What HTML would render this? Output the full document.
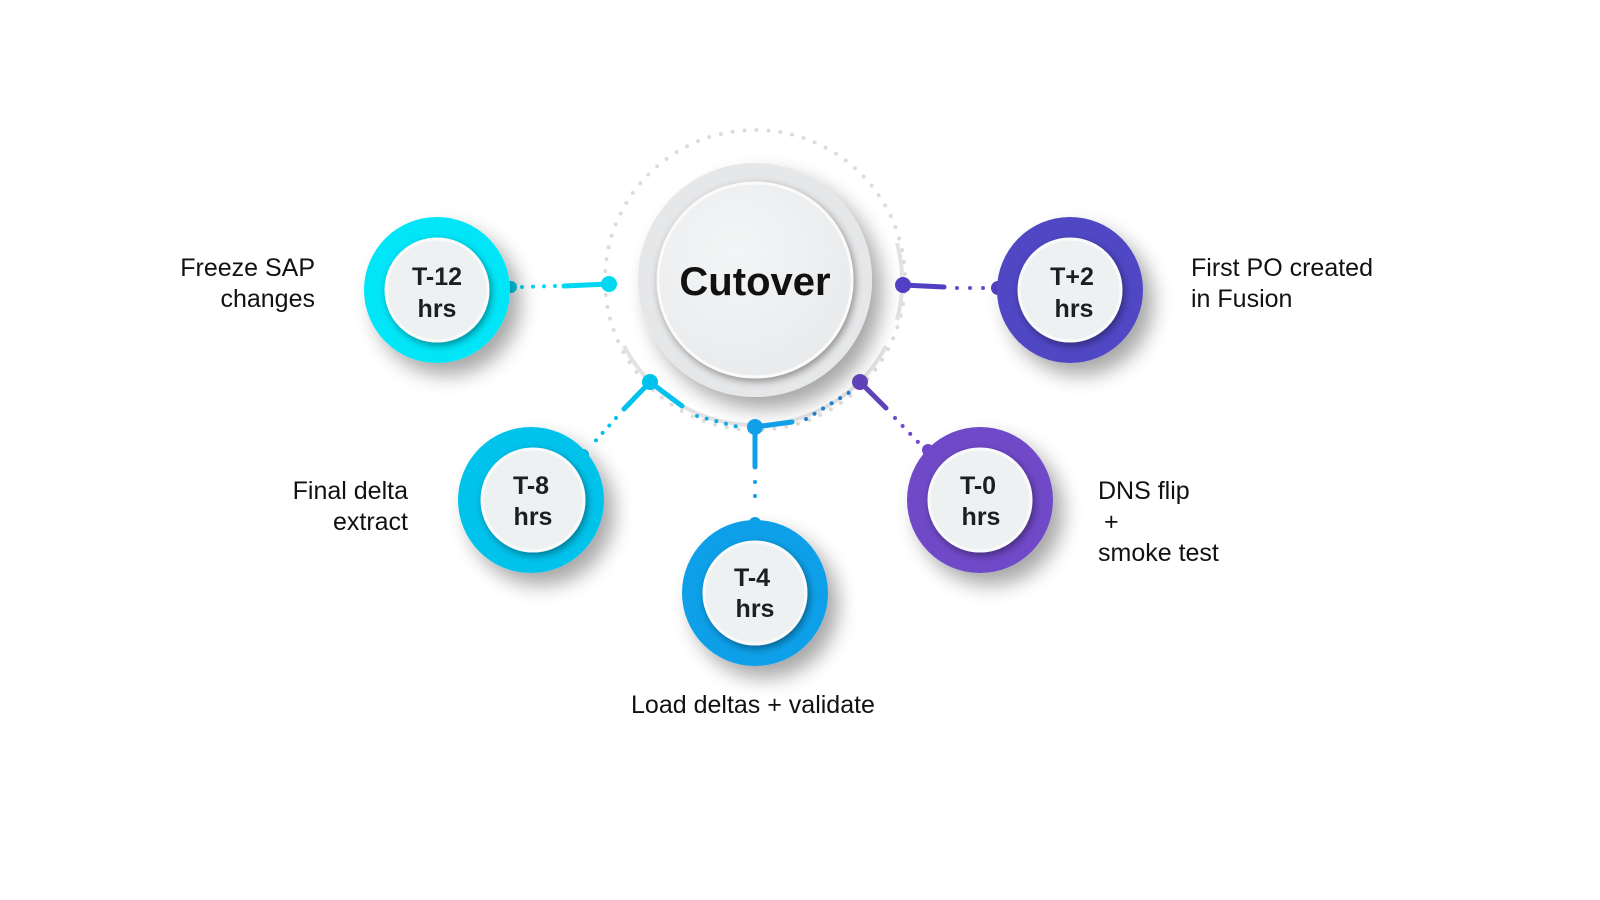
<!DOCTYPE html>
<html><head><meta charset="utf-8"><style>
html,body{margin:0;padding:0;background:#fff;width:1600px;height:900px;overflow:hidden}
svg{display:block}
text{font-family:"Liberation Sans",sans-serif}
</style></head><body>
<svg width="1600" height="900" viewBox="0 0 1600 900" xmlns="http://www.w3.org/2000/svg">
<defs>
<filter id="sh" x="-50%" y="-50%" width="200%" height="200%"><feGaussianBlur in="SourceAlpha" stdDeviation="10"/><feOffset dx="10" dy="12"/><feComponentTransfer><feFuncA type="linear" slope="0.35"/></feComponentTransfer><feMerge><feMergeNode/><feMergeNode in="SourceGraphic"/></feMerge></filter>
<filter id="sh2" x="-50%" y="-50%" width="200%" height="200%"><feGaussianBlur in="SourceAlpha" stdDeviation="4"/><feOffset dx="2" dy="3"/><feComponentTransfer><feFuncA type="linear" slope="0.4"/></feComponentTransfer><feMerge><feMergeNode/><feMergeNode in="SourceGraphic"/></feMerge></filter>
<radialGradient id="cg" cx="40%" cy="35%" r="70%"><stop offset="0" stop-color="#f3f5f6"/><stop offset="1" stop-color="#e8eaec"/></radialGradient>
</defs>
<!-- dotted ring -->
<circle cx="755" cy="280" r="150" fill="none" stroke="#dcdcdc" stroke-width="4" stroke-linecap="round" stroke-dasharray="0 12"/>
<!-- solid gray arc lower part -->
<path d="M624,346 A148,148 0 0 0 886,346" fill="none" stroke="#e2e2e2" stroke-width="4"/>
<path d="M897,243 A148,148 0 0 1 897,320" fill="none" stroke="#e2e2e2" stroke-width="4"/>
<!-- center -->
<circle cx="755" cy="280" r="117" fill="#e6e7e8" filter="url(#sh)"/>
<circle cx="755" cy="280" r="97" fill="url(#cg)" stroke="#fafafa" stroke-width="3" filter="url(#sh2)"/>
<text x="755" y="295" text-anchor="middle" font-size="40" font-weight="bold" fill="#111">Cutover</text>
<!-- connectors -->
<g stroke-linecap="round">
<line x1="564" y1="286" x2="609" y2="284" stroke="#00d8f2" stroke-width="5"/>
<line x1="522" y1="287" x2="555" y2="286" stroke="#00d8f2" stroke-width="4" stroke-dasharray="0 11"/>
<circle cx="609" cy="284" r="8" fill="#00d8f2"/><circle cx="511" cy="287" r="6" fill="#00d8f2"/>
<line x1="903" y1="285" x2="944" y2="287" stroke="#5240c4" stroke-width="5"/>
<line x1="957" y1="288" x2="985" y2="288" stroke="#7048c8" stroke-width="4" stroke-dasharray="0 13"/>
<circle cx="903" cy="285" r="8" fill="#5240c4"/><circle cx="998" cy="288" r="7" fill="#5240c4"/>
<line x1="650" y1="382" x2="624" y2="409" stroke="#00c2ec" stroke-width="5"/>
<line x1="650" y1="382" x2="682" y2="406" stroke="#00c2ec" stroke-width="5"/>
<line x1="616" y1="418" x2="590" y2="447" stroke="#00c2ec" stroke-width="4" stroke-dasharray="0 10"/>
<line x1="697" y1="416" x2="742" y2="428" stroke="#0eaaea" stroke-width="4" stroke-dasharray="0 10"/>
<circle cx="650" cy="382" r="8" fill="#00c2ec"/><circle cx="583" cy="455" r="6" fill="#00c2ec"/>
<line x1="755" y1="427" x2="755" y2="467" stroke="#11a0e8" stroke-width="5"/>
<line x1="755" y1="427" x2="792" y2="422" stroke="#11a0e8" stroke-width="5"/>
<line x1="755" y1="482" x2="755" y2="510" stroke="#11a0e8" stroke-width="4" stroke-dasharray="0 14"/>
<circle cx="755" cy="427" r="8" fill="#11a0e8"/><circle cx="755" cy="523" r="6" fill="#11a0e8"/>
<line x1="806" y1="419" x2="850" y2="392" stroke="#1f7fd0" stroke-width="4" stroke-dasharray="0 10"/>
<line x1="860" y1="382" x2="886" y2="408" stroke="#6042b8" stroke-width="5"/>
<line x1="895" y1="418" x2="918" y2="442" stroke="#7048c8" stroke-width="4" stroke-dasharray="0 11"/>
<circle cx="860" cy="382" r="8" fill="#6042b8"/><circle cx="928" cy="450" r="6" fill="#7048c8"/>
</g>
<!-- nodes -->
<g font-weight="bold" font-size="25" fill="#1a1f1f" text-anchor="middle">
<g><circle cx="437" cy="290" r="73" fill="#02e6f8" filter="url(#sh)"/><circle cx="437" cy="290" r="51" fill="#eef1f2" stroke="#fafafa" stroke-width="3" filter="url(#sh2)"/><text x="437" y="285">T-12</text><text x="437" y="317">hrs</text></g>
<g><circle cx="1070" cy="290" r="73" fill="#4f46c4" filter="url(#sh)"/><circle cx="1070" cy="290" r="51" fill="#eef1f2" stroke="#fafafa" stroke-width="3" filter="url(#sh2)"/><text x="1072" y="285">T+2</text><text x="1074" y="317">hrs</text></g>
<g><circle cx="531" cy="500" r="73" fill="#00c3ec" filter="url(#sh)"/><circle cx="533" cy="500" r="51" fill="#eef1f2" stroke="#fafafa" stroke-width="3" filter="url(#sh2)"/><text x="531" y="494">T-8</text><text x="533" y="525">hrs</text></g>
<g><circle cx="755" cy="593" r="73" fill="#10a0e9" filter="url(#sh)"/><circle cx="755" cy="593" r="51" fill="#eef1f2" stroke="#fafafa" stroke-width="3" filter="url(#sh2)"/><text x="752" y="586">T-4</text><text x="755" y="617">hrs</text></g>
<g><circle cx="980" cy="500" r="73" fill="#7049c8" filter="url(#sh)"/><circle cx="980" cy="500" r="51" fill="#eef1f2" stroke="#fafafa" stroke-width="3" filter="url(#sh2)"/><text x="978" y="494">T-0</text><text x="981" y="525">hrs</text></g>
</g>
<!-- labels -->
<g font-size="25" fill="#111">
<text x="315" y="276" text-anchor="end">Freeze SAP</text>
<text x="315" y="307" text-anchor="end">changes</text>
<text x="1191" y="276">First PO created</text>
<text x="1191" y="307">in Fusion</text>
<text x="408" y="499" text-anchor="end">Final delta</text>
<text x="408" y="530" text-anchor="end">extract</text>
<text x="1098" y="499">DNS flip</text>
<text x="1104" y="530">+</text>
<text x="1098" y="561">smoke test</text>
<text x="753" y="713" text-anchor="middle">Load deltas + validate</text>
</g>
</svg>
</body></html>
